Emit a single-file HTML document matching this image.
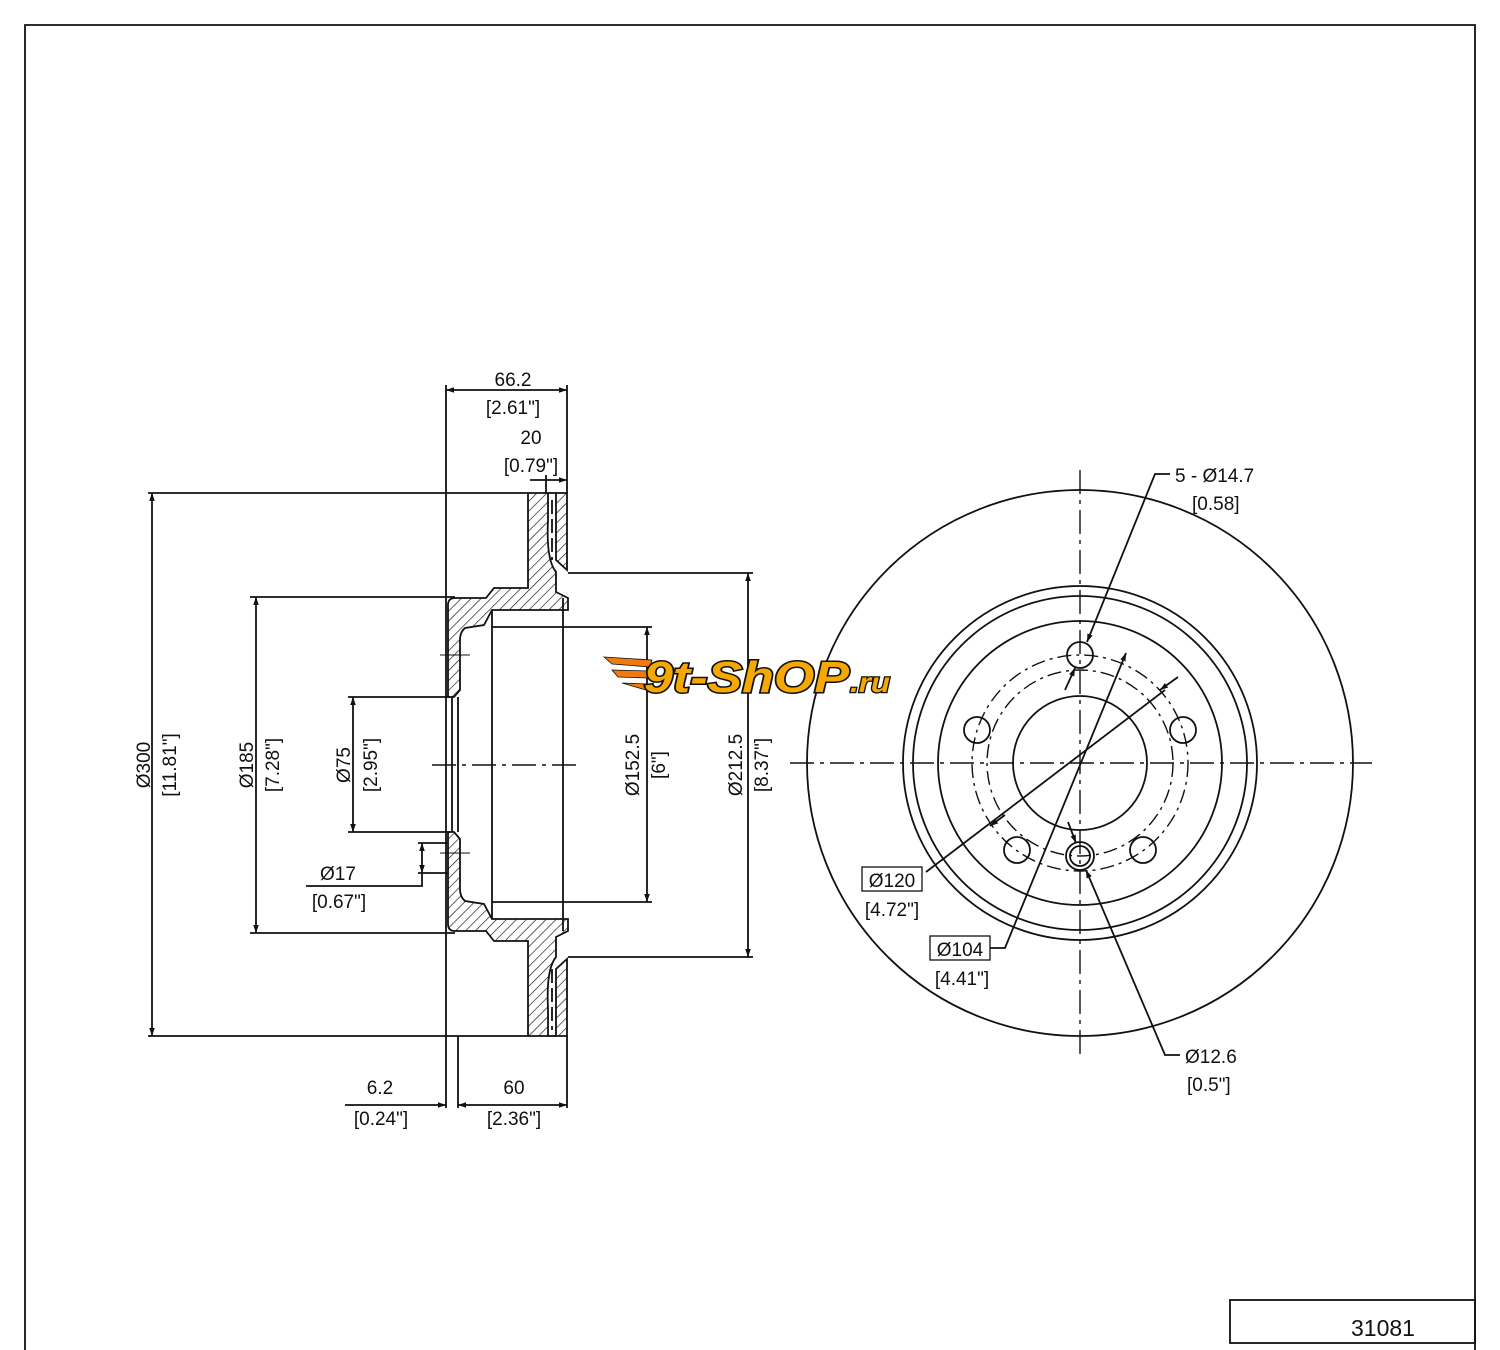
<!DOCTYPE html>
<html><head><style>
html,body{margin:0;padding:0;background:#fff;}
svg{display:block;}
text{font-family:"Liberation Sans",sans-serif;font-size:19px;fill:#111;}
</style></head><body>
<svg width="1500" height="1350" viewBox="0 0 1500 1350" xmlns="http://www.w3.org/2000/svg">
<defs>
<pattern id="h" width="7" height="7" patternUnits="userSpaceOnUse" patternTransform="rotate(45)">
<line x1="0" y1="0" x2="0" y2="7" stroke="#111" stroke-width="1.3"/>
</pattern>
<marker id="a" viewBox="0 0 10 10" refX="10" refY="5" markerWidth="12" markerHeight="8" orient="auto-start-reverse" markerUnits="userSpaceOnUse">
<path d="M0,1.5 L10,5 L0,8.5 z" fill="#111"/>
</marker>
</defs>
<g fill="none" stroke="#111" stroke-width="1.8">
<path d="M25,1350 V25 H1475 V1350"/>
<rect x="1230" y="1300" width="245" height="43"/>

<path fill="url(#h)" d="M528,493 H548 V520 Q546,560 556,572 L556,592 L568,598 V610 H492 L484,625 L465,628 Q460,632 460,640 V690 L454,697 H448 V605 Q448,598 455,598 H486 L494,588 H528 Z"/>
<path fill="url(#h)" d="M556,493 H567 V570 L556,560 Z"/>
<path fill="url(#h)" d="M528,1036 H548 V1009 Q546,969 556,957 L556,937 L568,931 V919 H492 L484,904 L465,901 Q460,897 460,889 V839 L454,832 H448 V924 Q448,931 455,931 H486 L494,941 H528 Z"/>
<path fill="url(#h)" d="M556,1036 H567 V959 L556,969 Z"/>
<line x1="548" y1="493" x2="556" y2="493"/>
<line x1="548" y1="1036" x2="556" y2="1036"/>
<path d="M552,500 V560" stroke-dasharray="14,5"/>
<path d="M552,969 V1030" stroke-dasharray="14,5"/>
<line x1="452" y1="697" x2="452" y2="832"/>
<line x1="458" y1="697" x2="458" y2="832"/>
<line x1="492" y1="610" x2="492" y2="919"/>
<line x1="563" y1="598" x2="563" y2="931"/>
<line x1="432" y1="765" x2="582" y2="765" stroke-dasharray="24,6,4,6" stroke-width="1.4"/>
<line x1="440" y1="655" x2="470" y2="655" stroke-width="1"/>
<line x1="440" y1="853" x2="470" y2="853" stroke-width="1"/>

<line x1="446" y1="385" x2="446" y2="1108"/>
<line x1="567" y1="385" x2="567" y2="493"/>
<line x1="567" y1="1036" x2="567" y2="1108"/>
<line x1="546" y1="475" x2="546" y2="493"/>
<line x1="458" y1="1036" x2="458" y2="1108"/>
<line x1="148" y1="493" x2="528" y2="493"/>
<line x1="148" y1="1036" x2="528" y2="1036"/>
<line x1="250" y1="597" x2="455" y2="597"/>
<line x1="250" y1="933" x2="455" y2="933"/>
<line x1="348" y1="697" x2="450" y2="697"/>
<line x1="348" y1="832" x2="450" y2="832"/>
<line x1="492" y1="627" x2="652" y2="627"/>
<line x1="492" y1="902" x2="652" y2="902"/>
<line x1="568" y1="573" x2="753" y2="573"/>
<line x1="568" y1="957" x2="753" y2="957"/>
<line x1="418" y1="843" x2="448" y2="843"/>
<line x1="418" y1="873" x2="448" y2="873"/>
<line x1="446" y1="390" x2="567" y2="390" marker-start="url(#a)" marker-end="url(#a)"/>
<line x1="530" y1="480" x2="567" y2="480" marker-end="url(#a)"/>
<line x1="152" y1="493" x2="152" y2="1036" marker-start="url(#a)" marker-end="url(#a)"/>
<line x1="256" y1="597" x2="256" y2="933" marker-start="url(#a)" marker-end="url(#a)"/>
<line x1="353" y1="697" x2="353" y2="832" marker-start="url(#a)" marker-end="url(#a)"/>
<line x1="647" y1="627" x2="647" y2="902" marker-start="url(#a)" marker-end="url(#a)"/>
<line x1="748" y1="573" x2="748" y2="957" marker-start="url(#a)" marker-end="url(#a)"/>
<line x1="422" y1="843" x2="422" y2="873" marker-start="url(#a)" marker-end="url(#a)"/>
<path d="M306,886 H422 V873"/>
<line x1="345" y1="1105" x2="446" y2="1105" marker-end="url(#a)"/>
<line x1="458" y1="1105" x2="567" y2="1105" marker-start="url(#a)" marker-end="url(#a)"/>

<circle cx="1080" cy="763" r="273"/>
<circle cx="1080" cy="763" r="177"/>
<circle cx="1080" cy="763" r="167"/>
<circle cx="1080" cy="763" r="142"/>
<circle cx="1080" cy="763" r="67"/>
<circle cx="1080" cy="763" r="108" stroke-dasharray="14,5,3,5" stroke-width="1.4"/>
<circle cx="1080" cy="763" r="93" stroke-dasharray="14,5,3,5" stroke-width="1.4"/>
<circle cx="1080" cy="655" r="13"/>
<circle cx="1183" cy="730" r="13"/>
<circle cx="1143" cy="850" r="13"/>
<circle cx="1017" cy="850" r="13"/>
<circle cx="977" cy="730" r="13"/>
<circle cx="1080" cy="856" r="14"/>
<circle cx="1080" cy="856" r="10"/>
<line x1="1080" y1="470" x2="1080" y2="1058" stroke-dasharray="24,6,4,6" stroke-width="1.4"/>
<line x1="790" y1="763" x2="1372" y2="763" stroke-dasharray="24,6,4,6" stroke-width="1.4"/>
<path d="M1170,474 H1155 L1087,642" marker-end="url(#a)"/>
<line x1="1065" y1="690" x2="1075" y2="668" marker-end="url(#a)"/>
<line x1="926" y1="872" x2="1165" y2="690"/>
<line x1="1005" y1="815" x2="990" y2="826" marker-end="url(#a)"/>
<line x1="1160" y1="690" x2="1178" y2="677" marker-start="url(#a)"/>
<path d="M990,948 H1005 L1126,653" marker-end="url(#a)"/>
<path d="M1180,1055 H1165 L1086,870" marker-end="url(#a)"/>
<line x1="1068" y1="822" x2="1076" y2="843" marker-end="url(#a)"/>
<rect x="862" y="867" width="60" height="24" stroke-width="1.3"/>
<rect x="930" y="936" width="60" height="24" stroke-width="1.3"/>
</g>

<text x="513" y="386" text-anchor="middle">66.2</text>
<text x="513" y="414" text-anchor="middle">[2.61"]</text>
<text x="531" y="444" text-anchor="middle">20</text>
<text x="531" y="472" text-anchor="middle">[0.79"]</text>
<text x="380" y="1094" text-anchor="middle">6.2</text>
<text x="381" y="1125" text-anchor="middle">[0.24"]</text>
<text x="514" y="1094" text-anchor="middle">60</text>
<text x="514" y="1125" text-anchor="middle">[2.36"]</text>
<text x="338" y="880" text-anchor="middle">Ø17</text>
<text x="339" y="908" text-anchor="middle">[0.67"]</text>
<text transform="translate(150,765) rotate(-90)" text-anchor="middle">Ø300</text>
<text transform="translate(176,765) rotate(-90)" text-anchor="middle">[11.81"]</text>
<text transform="translate(253,765) rotate(-90)" text-anchor="middle">Ø185</text>
<text transform="translate(279,765) rotate(-90)" text-anchor="middle">[7.28"]</text>
<text transform="translate(350,765) rotate(-90)" text-anchor="middle">Ø75</text>
<text transform="translate(377,765) rotate(-90)" text-anchor="middle">[2.95"]</text>
<text transform="translate(639,765) rotate(-90)" text-anchor="middle">Ø152.5</text>
<text transform="translate(665,765) rotate(-90)" text-anchor="middle">[6"]</text>
<text transform="translate(742,765) rotate(-90)" text-anchor="middle">Ø212.5</text>
<text transform="translate(768,765) rotate(-90)" text-anchor="middle">[8.37"]</text>
<text x="1175" y="482">5 - Ø14.7</text>
<text x="1192" y="510">[0.58]</text>
<text x="892" y="887" text-anchor="middle">Ø120</text>
<text x="892" y="916" text-anchor="middle">[4.72"]</text>
<text x="960" y="956" text-anchor="middle">Ø104</text>
<text x="962" y="985" text-anchor="middle">[4.41"]</text>
<text x="1185" y="1063">Ø12.6</text>
<text x="1187" y="1091">[0.5"]</text>
<text x="1383" y="1336" text-anchor="middle" style="font-size:23px">31081</text>

<g>
<path d="M604,657 L652,660 L650,667 L612,664 Z M612,670 L650,671 L648,678 L618,677 Z M622,683 L648,684 L646,690 Z" fill="#f07a10" stroke="#111" stroke-width="0.8"/>
<text x="644" y="692" textLength="205" lengthAdjust="spacingAndGlyphs" style="font-size:44px;font-weight:bold;font-style:italic;fill:#f5a800;stroke:#111;stroke-width:3;paint-order:stroke">9t-ShOP</text>
<text x="850" y="692" textLength="40" lengthAdjust="spacingAndGlyphs" style="font-size:28px;font-weight:bold;font-style:italic;fill:#f5a800;stroke:#111;stroke-width:2.5;paint-order:stroke">.ru</text>
</g>
</svg>
</body></html>
